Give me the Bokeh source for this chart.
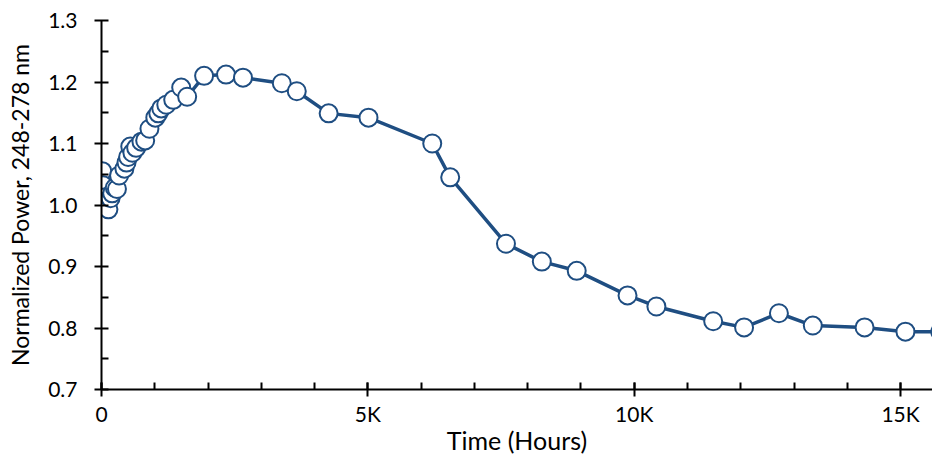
from bokeh.plotting import figure
from bokeh.models import FixedTicker, CustomJSTickFormatter, NumeralTickFormatter, Range1d, ColumnDataSource
from bokeh.embed import file_html
from bokeh.resources import INLINE

hours = [0, 15, 30, 45, 60, 90, 130, 170, 200, 250, 290, 330, 430, 470, 500, 540,
         580, 650, 750, 820, 900, 1010, 1066, 1122, 1216, 1346, 1496, 1608, 1926,
         2338, 2656, 3385, 3666, 4264, 5012, 6209, 6546, 7593, 8266, 8921, 9875,
         10417, 11483, 12063, 12717, 13353, 14325, 15092, 15747]
power = [1.000, 1.055, 1.032, 1.012, 1.005, 0.996, 0.993, 1.011, 1.019, 1.028, 1.026,
         1.048, 1.059, 1.069, 1.078, 1.095, 1.085, 1.093, 1.103, 1.105, 1.124, 1.142,
         1.149, 1.157, 1.163, 1.171, 1.191, 1.176, 1.210, 1.212, 1.207, 1.198, 1.185,
         1.149, 1.142, 1.100, 1.045, 0.937, 0.908, 0.893, 0.853, 0.835, 0.811, 0.801,
         0.824, 0.804, 0.801, 0.794, 0.794]

x_major = [0, 5000, 10000, 15000]
x_minor = list(range(0, 16000, 1000))
y_major = [0.7, 0.8, 0.9, 1.0, 1.1, 1.2, 1.3]
y_minor = [0.75, 0.85, 0.95, 1.05, 1.15, 1.25]

x_label = "Time (Hours)"
y_label = "Normalized Power, 248-278 nm"

COLOR = "#1f4e82"
FONT = "Lato"

src = ColumnDataSource(dict(x=hours, y=power))

p = figure(width=932, height=458, output_backend="svg", toolbar_location=None,
           x_range=Range1d(0, 15600), y_range=Range1d(0.7, 1.3),
           min_border_left=101, min_border_top=20, min_border_bottom=69, min_border_right=0)
p.outline_line_color = None
p.xgrid.visible = False
p.ygrid.visible = False

p.line("x", "y", source=src, line_color=COLOR, line_width=3.5)
p.scatter("x", "y", source=src, size=18, fill_color="white", line_color=COLOR, line_width=2)

xa = p.xaxis[0]
xa.ticker = FixedTicker(ticks=x_major, minor_ticks=x_minor)
xa.formatter = CustomJSTickFormatter(code="return tick == 0 ? '0' : (tick/1000) + 'K';")
ya = p.yaxis[0]
ya.ticker = FixedTicker(ticks=y_major, minor_ticks=y_minor)
ya.formatter = NumeralTickFormatter(format="0.0")

for ax in (xa, ya):
    ax.axis_line_color = "black"
    ax.axis_line_width = 2
    ax.major_tick_line_color = "black"
    ax.major_tick_line_width = 2
    ax.minor_tick_line_color = "black"
    ax.minor_tick_line_width = 2
    ax.major_tick_in = 7
    ax.major_tick_out = 7
    ax.minor_tick_in = 7
    ax.minor_tick_out = 0
    ax.major_label_text_font = FONT
    ax.major_label_text_font_size = "21px"
    ax.major_label_text_color = "black"
    ax.axis_label_text_font = FONT
    ax.axis_label_text_font_style = "normal"
    ax.axis_label_text_color = "black"

xa.axis_label = x_label
ya.axis_label = y_label
xa.axis_label_text_font_size = "25px"
ya.axis_label_text_font_size = "23px"
xa.major_label_standoff = 4
xa.axis_label_standoff = -4
ya.major_label_standoff = 17
ya.axis_label_standoff = 11

open("out.html", "w").write(file_html(p, INLINE))
